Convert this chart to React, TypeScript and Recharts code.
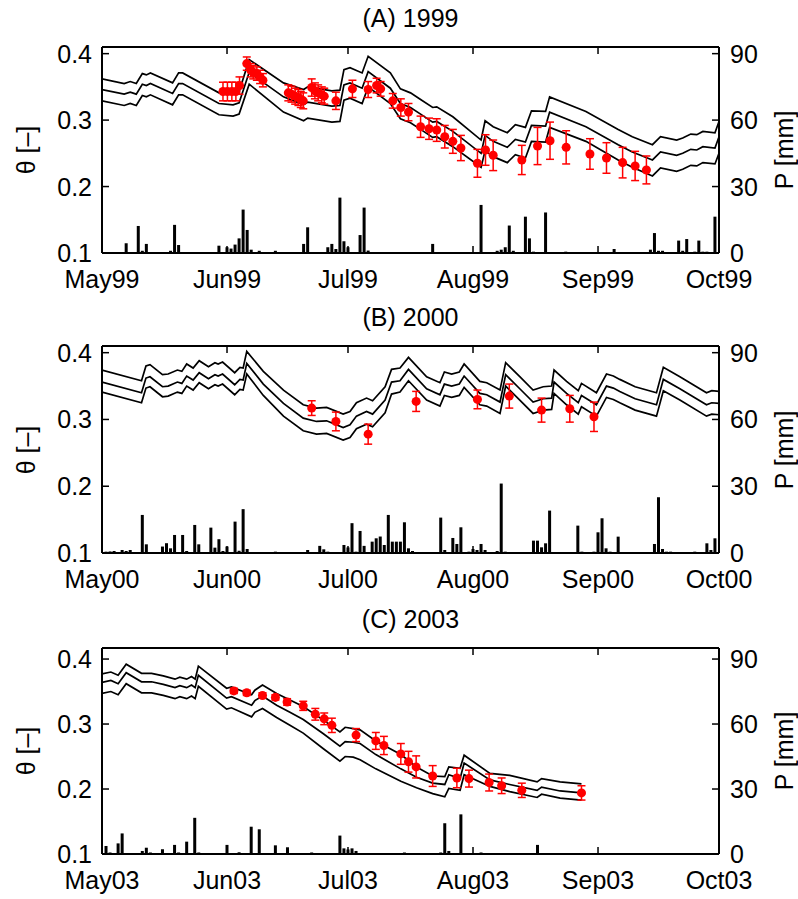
import {
  Bar,
  ComposedChart,
  ErrorBar,
  Line,
  ReferenceLine,
  Scatter,
  XAxis,
  YAxis,
} from "recharts";

// Three stacked panels: modelled soil moisture band (3 black lines),
// observed theta with error bars (red), daily rain bars on the right axis.

const FONT = '"Liberation Sans", Arial, Helvetica, sans-serif';
const RED = "#ff0000";
const FS = 25;

// x = days since 1 May
const MONTH_TICKS = [0, 31, 61, 92, 123, 153];
const THETA_TICKS = [0.1, 0.2, 0.3, 0.4];
const P_TICKS = [0, 30, 60, 90];

// ---- (A) 1999 ----
const A_MONTHS = ["May99", "Jun99", "Jul99", "Aug99", "Sep99", "Oct99"];
const A_LINE_DAYS = [0, 5.5, 7, 8.5, 10, 11, 12, 17.5, 19, 20, 29, 32.5, 34, 36.5, 45, 50, 51, 57, 59, 60, 61.5, 64.5, 66, 71.5, 74, 76.5, 79, 82, 83, 87, 94, 95, 97, 100.5, 102.5, 105, 106.5, 110, 111, 120, 128, 131.5, 136.5, 138.5, 142.5, 144, 146, 147.5, 149, 152, 153];
const A_UPPER = [0.362, 0.355, 0.358, 0.355, 0.37, 0.368, 0.371, 0.356, 0.371, 0.371, 0.341, 0.34, 0.343, 0.391, 0.356, 0.346, 0.35, 0.344, 0.345, 0.376, 0.379, 0.371, 0.396, 0.371, 0.347, 0.341, 0.331, 0.319, 0.32, 0.305, 0.27, 0.299, 0.29, 0.281, 0.293, 0.289, 0.314, 0.313, 0.335, 0.313, 0.286, 0.275, 0.263, 0.275, 0.27, 0.273, 0.279, 0.278, 0.283, 0.281, 0.298];
const A_MIDDLE = [0.346, 0.339, 0.342, 0.339, 0.354, 0.352, 0.355, 0.34, 0.355, 0.355, 0.325, 0.323, 0.326, 0.372, 0.335, 0.323, 0.327, 0.321, 0.322, 0.353, 0.356, 0.348, 0.373, 0.348, 0.325, 0.319, 0.309, 0.297, 0.298, 0.283, 0.25, 0.277, 0.268, 0.259, 0.271, 0.267, 0.292, 0.291, 0.312, 0.29, 0.263, 0.252, 0.24, 0.252, 0.247, 0.25, 0.256, 0.255, 0.26, 0.258, 0.275];
const A_LOWER = [0.329, 0.322, 0.325, 0.322, 0.337, 0.335, 0.338, 0.323, 0.338, 0.338, 0.308, 0.306, 0.309, 0.354, 0.312, 0.299, 0.303, 0.297, 0.298, 0.33, 0.333, 0.325, 0.35, 0.325, 0.302, 0.296, 0.286, 0.274, 0.275, 0.26, 0.229, 0.254, 0.245, 0.236, 0.248, 0.243, 0.268, 0.267, 0.289, 0.268, 0.24, 0.229, 0.216, 0.228, 0.223, 0.226, 0.232, 0.231, 0.236, 0.234, 0.25];
const A_OBS_DAYS = [30, 31.1, 32.2, 33.2, 34.1, 35.9, 36.9, 37.5, 38.4, 39.2, 39.9, 46.2, 47, 47.9, 48.7, 49.3, 49.9, 52, 52.8, 53.6, 54.5, 55.1, 58, 62.1, 66, 68.1, 69.1, 72.1, 74.1, 76, 79, 81.1, 83, 85, 87, 89, 93.1, 95.1, 97, 104.1, 108, 111.1, 115.1, 121, 125.1, 129.1, 132.2, 135];
const A_OBS_THETA = [0.343, 0.343, 0.343, 0.343, 0.352, 0.385, 0.375, 0.372, 0.37, 0.365, 0.36, 0.341, 0.339, 0.336, 0.334, 0.331, 0.329, 0.349, 0.344, 0.341, 0.338, 0.336, 0.329, 0.347, 0.346, 0.352, 0.347, 0.329, 0.319, 0.312, 0.29, 0.287, 0.285, 0.275, 0.268, 0.258, 0.235, 0.255, 0.247, 0.24, 0.261, 0.269, 0.259, 0.249, 0.243, 0.236, 0.231, 0.225];
const A_OBS_ERR = [0.014, 0.014, 0.014, 0.014, 0.013, 0.01, 0.01, 0.01, 0.01, 0.01, 0.01, 0.012, 0.012, 0.012, 0.012, 0.012, 0.012, 0.013, 0.012, 0.012, 0.012, 0.012, 0.013, 0.013, 0.012, 0.011, 0.011, 0.011, 0.013, 0.013, 0.016, 0.016, 0.017, 0.017, 0.018, 0.019, 0.021, 0.023, 0.023, 0.022, 0.028, 0.028, 0.025, 0.023, 0.023, 0.023, 0.022, 0.021];
const A_RAIN_DAYS = [6, 9, 10, 11, 17, 18, 19, 29, 31, 32, 33, 34, 35, 36, 37, 39, 43, 50, 51, 56, 57, 58, 59, 60, 61, 64, 65, 66, 82, 94, 98, 99, 100, 101, 102, 105, 106, 107, 110, 115, 127, 136, 137, 138, 139, 143, 144, 145, 147, 148, 149, 150, 152];
const A_RAIN_MM = [4.4, 12.2, 1, 4.1, 1, 12.7, 3.6, 3.3, 2.6, 2, 3.8, 6.6, 19.6, 10.4, 1.5, 1, 1, 4.1, 11.6, 2.6, 4.1, 1.8, 25, 5.3, 2.6, 8.1, 20.5, 1.1, 4.1, 21.7, 1, 1.5, 2.6, 12.4, 1, 16.4, 6.6, 0.6, 18.3, 0.6, 1.8, 1.5, 9, 1, 1, 5.6, 1, 6.3, 0.6, 5.6, 0.6, 0.6, 16.4];

// ---- (B) 2000 ----
const B_MONTHS = ["May00", "Jun00", "Jul00", "Aug00", "Sep00", "Oct00"];
const B_LINE_DAYS = [0, 9.8, 10.9, 11.9, 15, 16.4, 18.7, 19.8, 21, 22.6, 24.1, 26.4, 28, 28.8, 29.9, 32.9, 34.2, 35, 35.9, 40, 45, 49.9, 53.2, 55.7, 59.8, 61.5, 63.1, 65.6, 67.1, 70.2, 71.8, 73.9, 76, 80.5, 83.8, 84.9, 86.7, 88.6, 89.8, 93.7, 95.4, 98.7, 100.1, 103.6, 106.9, 109.4, 111.5, 112.1, 115.2, 118.1, 118.9, 122.6, 125.1, 126.8, 128.4, 132.2, 137.5, 139.2, 143.3, 149.9, 151.2, 153];
const B_UPPER = [0.374, 0.358, 0.38, 0.382, 0.367, 0.368, 0.374, 0.372, 0.383, 0.377, 0.388, 0.379, 0.385, 0.383, 0.386, 0.37, 0.378, 0.377, 0.402, 0.372, 0.344, 0.322, 0.317, 0.318, 0.308, 0.312, 0.325, 0.332, 0.328, 0.349, 0.375, 0.377, 0.393, 0.364, 0.355, 0.371, 0.368, 0.371, 0.383, 0.357, 0.355, 0.344, 0.385, 0.364, 0.344, 0.349, 0.35, 0.374, 0.357, 0.343, 0.354, 0.34, 0.368, 0.365, 0.36, 0.349, 0.34, 0.378, 0.364, 0.34, 0.343, 0.342];
const B_MIDDLE = [0.356, 0.34, 0.362, 0.364, 0.349, 0.35, 0.356, 0.354, 0.365, 0.359, 0.37, 0.361, 0.367, 0.365, 0.368, 0.352, 0.36, 0.359, 0.384, 0.353, 0.324, 0.302, 0.297, 0.298, 0.288, 0.292, 0.305, 0.312, 0.308, 0.329, 0.356, 0.358, 0.375, 0.346, 0.337, 0.353, 0.35, 0.353, 0.365, 0.339, 0.337, 0.326, 0.367, 0.346, 0.326, 0.331, 0.332, 0.356, 0.339, 0.325, 0.336, 0.322, 0.35, 0.347, 0.342, 0.331, 0.322, 0.36, 0.346, 0.322, 0.325, 0.324];
const B_LOWER = [0.341, 0.325, 0.347, 0.349, 0.334, 0.335, 0.341, 0.339, 0.35, 0.344, 0.355, 0.346, 0.352, 0.35, 0.353, 0.337, 0.345, 0.344, 0.368, 0.336, 0.305, 0.283, 0.278, 0.279, 0.269, 0.273, 0.286, 0.293, 0.289, 0.31, 0.338, 0.341, 0.358, 0.329, 0.32, 0.336, 0.333, 0.336, 0.348, 0.322, 0.32, 0.309, 0.35, 0.329, 0.309, 0.314, 0.315, 0.339, 0.322, 0.308, 0.319, 0.305, 0.333, 0.33, 0.325, 0.314, 0.305, 0.343, 0.329, 0.305, 0.308, 0.307];
const B_OBS_DAYS = [52, 58, 66, 77.9, 93.1, 101, 109, 116, 122];
const B_OBS_THETA = [0.317, 0.297, 0.278, 0.327, 0.33, 0.335, 0.314, 0.316, 0.304];
const B_OBS_ERR = [0.011, 0.014, 0.015, 0.015, 0.014, 0.018, 0.018, 0.02, 0.022];
const B_RAIN_DAYS = [1, 2, 3, 5, 6, 7, 10, 11, 15, 16, 17, 18, 20, 21, 23, 24, 27, 28, 29, 30, 31, 33, 34, 35, 36, 43, 51, 54, 55, 56, 60, 61, 62, 63, 64, 65, 67, 68, 69, 70, 71, 72, 73, 74, 75, 76, 77, 84, 85, 87, 88, 89, 91, 92, 93, 94, 95, 98, 99, 100, 107, 108, 109, 110, 111, 118, 119, 122, 123, 124, 125, 126, 128, 137, 138, 139, 140, 141, 147, 150, 151, 152];
const B_RAIN_MM = [0.6, 0.7, 0.9, 1.35, 0.9, 1.35, 17.1, 3.9, 2.9, 4.4, 2.1, 8.1, 8.1, 0.9, 12.6, 3.9, 11.4, 2.4, 6.2, 0.9, 2.9, 14.1, 1, 19.7, 1.8, 0.6, 1.35, 3.2, 1.65, 0.6, 3.6, 2.5, 13.4, 0.6, 9.9, 3.2, 5.1, 6.6, 7.4, 3.6, 17.1, 5.1, 5.1, 5.1, 13.8, 2.1, 0.9, 15.9, 1.35, 6.75, 4.05, 11.55, 0.6, 1.8, 1.35, 4.05, 1.35, 0.9, 31.2, 0.6, 5.55, 5.55, 2.55, 4.35, 19.05, 12.3, 0.6, 0.6, 9.3, 15.6, 2.1, 0.6, 7.35, 4.05, 25.05, 1.8, 0.6, 0.6, 0.6, 4.35, 1.35, 6.6];

// ---- (C) 2003 ----
const C_MONTHS = ["May03", "Jun03", "Jul03", "Aug03", "Sep03", "Oct03"];
const C_LINE_DAYS = [0, 2.2, 4, 6, 9.8, 12.3, 15.2, 18.1, 19.3, 21, 22.2, 23.1, 23.9, 30.9, 32.1, 37.1, 37.9, 39.8, 43.3, 46.6, 49.9, 54.9, 59, 60.3, 62.3, 64, 67.9, 74.1, 78, 82, 85, 86, 88.8, 89.8, 96.2, 101.1, 107.9, 109, 113.6, 118.9];
const C_UPPER = [0.377, 0.38, 0.375, 0.392, 0.378, 0.378, 0.374, 0.369, 0.372, 0.369, 0.373, 0.369, 0.389, 0.355, 0.357, 0.345, 0.352, 0.36, 0.347, 0.337, 0.327, 0.306, 0.288, 0.295, 0.293, 0.291, 0.274, 0.253, 0.234, 0.22, 0.219, 0.234, 0.232, 0.252, 0.224, 0.221, 0.211, 0.216, 0.211, 0.208];
const C_MIDDLE = [0.364, 0.367, 0.362, 0.379, 0.365, 0.365, 0.361, 0.356, 0.359, 0.356, 0.36, 0.356, 0.375, 0.34, 0.342, 0.329, 0.336, 0.343, 0.329, 0.318, 0.307, 0.285, 0.266, 0.273, 0.272, 0.27, 0.253, 0.231, 0.218, 0.209, 0.207, 0.222, 0.216, 0.24, 0.214, 0.207, 0.198, 0.203, 0.197, 0.194];
const C_LOWER = [0.347, 0.35, 0.345, 0.362, 0.348, 0.348, 0.344, 0.339, 0.342, 0.339, 0.343, 0.339, 0.358, 0.323, 0.325, 0.311, 0.318, 0.324, 0.31, 0.298, 0.286, 0.262, 0.243, 0.25, 0.249, 0.245, 0.231, 0.212, 0.202, 0.193, 0.188, 0.201, 0.198, 0.222, 0.204, 0.196, 0.187, 0.192, 0.186, 0.183];
const C_OBS_DAYS = [32.7, 35.9, 39.8, 43, 45.9, 49.9, 52.9, 55.1, 57, 63, 67.9, 69.9, 74.1, 76, 77.9, 82, 88, 91, 96, 99.1, 104.1, 118.9];
const C_OBS_THETA = [0.351, 0.348, 0.344, 0.341, 0.334, 0.328, 0.315, 0.308, 0.298, 0.283, 0.274, 0.267, 0.254, 0.242, 0.234, 0.22, 0.217, 0.216, 0.21, 0.205, 0.198, 0.194];
const C_OBS_ERR = [0.004, 0.004, 0.004, 0.004, 0.005, 0.007, 0.009, 0.009, 0.011, 0.01, 0.013, 0.014, 0.016, 0.016, 0.017, 0.016, 0.015, 0.013, 0.013, 0.012, 0.011, 0.011];
const C_RAIN_DAYS = [1, 2, 4, 5, 10, 11, 12, 15, 18, 19, 21, 23, 24, 31, 34, 37, 39, 43, 46, 52, 59, 60, 61, 62, 63, 75, 84, 85, 86, 89, 94, 108];
const C_RAIN_MM = [3.7, 0.7, 4.9, 9.5, 1.4, 2.9, 0.7, 2.2, 4.2, 0.7, 5.7, 16.7, 0.7, 4.2, 0.8, 12.6, 11.4, 4, 3.1, 0.7, 8.5, 2.6, 2.1, 2.6, 1.4, 0.7, 0.7, 14.2, 1.4, 18.3, 0.7, 4.2];

type TickProps = { x?: number; y?: number; payload?: { value: number } };

function MonthTick({ x = 0, y = 0, payload, labels, plotH }: TickProps & { labels: string[]; plotH: number }) {
  const i = MONTH_TICKS.indexOf(payload ? payload.value : -1);
  return (
    <g>
      <line x1={x} x2={x} y1={y} y2={y - 7} stroke="#000" strokeWidth={1.5} />
      <line x1={x} x2={x} y1={y - plotH} y2={y - plotH + 7} stroke="#000" strokeWidth={1.5} />
      <text x={x} y={y + 35} textAnchor="middle" fontSize={FS} fontFamily={FONT} fill="#000">
        {labels[i]}
      </text>
    </g>
  );
}

function ThetaTick({ x = 0, y = 0, payload }: TickProps) {
  return (
    <g>
      <line x1={x} x2={x + 7} y1={y} y2={y} stroke="#000" strokeWidth={1.5} />
      <text x={x - 10} y={y + 9} textAnchor="end" fontSize={FS} fontFamily={FONT} fill="#000">
        {payload ? payload.value.toFixed(1) : ""}
      </text>
    </g>
  );
}

function RainTick({ x = 0, y = 0, payload }: TickProps) {
  return (
    <g>
      <line x1={x} x2={x - 7} y1={y} y2={y} stroke="#000" strokeWidth={1.5} />
      <text x={x + 11} y={y + 9} textAnchor="start" fontSize={FS} fontFamily={FONT} fill="#000">
        {payload ? String(payload.value) : ""}
      </text>
    </g>
  );
}

// fixed 3px bar centred on its day, whatever band size recharts picks
function RainBar(b: { x?: number; y?: number; width?: number; height?: number }) {
  const cx = (b.x ?? 0) + (b.width ?? 0) / 2;
  const h = b.height ?? 0;
  if (h <= 0) return null;
  return <rect x={cx - 1.5} y={b.y} width={3} height={h} fill="#000" />;
}

type PanelProps = {
  top: number;
  title: string;
  months: string[];
  plotH: number;
  thetaMax: number;
  pMax: number;
  lineDays: number[];
  upper: number[];
  middle: number[];
  lower: number[];
  obsDays: number[];
  obsTheta: number[];
  obsErr: number[];
  rainDays: number[];
  rainMm: number[];
};

const CHART_H = 298;
const PLOT_TOP = 47;

function Panel(p: PanelProps) {
  const rain = p.rainDays.map((d, i) => ({ d, p: p.rainMm[i] }));
  const bands = [p.upper, p.middle, p.lower].map((vals) =>
    p.lineDays.map((d, i) => ({ d, v: vals[i] })),
  );
  const obs = p.obsDays.map((d, i) => ({ d, th: p.obsTheta[i], e: p.obsErr[i] }));
  const midY = PLOT_TOP + p.plotH / 2;
  const labelStyle = {
    position: "absolute" as const,
    width: 120,
    height: 30,
    lineHeight: "30px",
    fontSize: FS,
    textAlign: "center" as const,
    transform: "rotate(-90deg)",
    top: midY - 15,
    whiteSpace: "nowrap" as const,
  };

  return (
    <div style={{ position: "absolute", left: 0, top: p.top, width: 798, height: CHART_H }}>
      <ComposedChart
        width={798}
        height={CHART_H}
        data={rain}
        margin={{ top: PLOT_TOP, right: 19, bottom: 0, left: 42 }}
      >
        <XAxis
          dataKey="d"
          type="number"
          domain={[0, 153]}
          allowDataOverflow
          ticks={MONTH_TICKS}
          interval={0}
          height={CHART_H - PLOT_TOP - p.plotH}
          tickSize={0}
          tickMargin={0}
          tickLine={false}
          axisLine={{ stroke: "#000", strokeWidth: 2 }}
          tick={(t: TickProps) => <MonthTick {...t} labels={p.months} plotH={p.plotH} />}
        />
        <YAxis
          yAxisId="t"
          type="number"
          domain={[0.1, p.thetaMax]}
          allowDataOverflow
          ticks={THETA_TICKS}
          interval={0}
          width={60}
          tickSize={0}
          tickMargin={0}
          tickLine={false}
          axisLine={{ stroke: "#000", strokeWidth: 2 }}
          tick={(t: TickProps) => <ThetaTick {...t} />}
        />
        <YAxis
          yAxisId="p"
          orientation="right"
          type="number"
          domain={[0, p.pMax]}
          allowDataOverflow
          ticks={P_TICKS}
          interval={0}
          width={60}
          tickSize={0}
          tickMargin={0}
          tickLine={false}
          axisLine={{ stroke: "#000", strokeWidth: 2 }}
          tick={(t: TickProps) => <RainTick {...t} />}
        />
        <ReferenceLine yAxisId="t" y={p.thetaMax} stroke="#000" strokeWidth={2} />
        <Bar
          yAxisId="p"
          dataKey="p"
          fill="#000"
          barSize={3}
          shape={(b: any) => <RainBar {...b} />}
          isAnimationActive={false}
        />
        {bands.map((rows, i) => (
          <Line
            key={i}
            data={rows}
            yAxisId="t"
            dataKey="v"
            type="linear"
            stroke="#000"
            strokeWidth={1.7}
            dot={false}
            activeDot={false}
            isAnimationActive={false}
          />
        ))}
        <Scatter
          data={obs}
          yAxisId="t"
          dataKey="th"
          fill={RED}
          shape="circle"
          isAnimationActive={false}
        >
          <ErrorBar dataKey="e" direction="y" width={4} stroke={RED} strokeWidth={1.5} />
        </Scatter>
      </ComposedChart>
      <div
        style={{
          position: "absolute",
          left: 102,
          width: 617,
          top: 6,
          fontSize: FS,
          lineHeight: `${FS}px`,
          textAlign: "center",
        }}
      >
        {p.title}
      </div>
      <div style={{ ...labelStyle, left: 26 - 60 }}>θ [–]</div>
      <div style={{ ...labelStyle, left: 784 - 60 }}>P [mm]</div>
    </div>
  );
}

export default function App() {
  return (
    <div
      style={{
        position: "absolute",
        left: 0,
        top: 0,
        width: 798,
        height: 899,
        overflow: "hidden",
        background: "#fff",
        fontFamily: FONT,
        color: "#000",
      }}
    >
      <Panel
        top={0}
        title="(A) 1999"
        months={A_MONTHS}
        plotH={206}
        thetaMax={0.41}
        pMax={93}
        lineDays={A_LINE_DAYS}
        upper={A_UPPER}
        middle={A_MIDDLE}
        lower={A_LOWER}
        obsDays={A_OBS_DAYS}
        obsTheta={A_OBS_THETA}
        obsErr={A_OBS_ERR}
        rainDays={A_RAIN_DAYS}
        rainMm={A_RAIN_MM}
      />
      <Panel
        top={299}
        title="(B) 2000"
        months={B_MONTHS}
        plotH={207}
        thetaMax={0.41}
        pMax={93}
        lineDays={B_LINE_DAYS}
        upper={B_UPPER}
        middle={B_MIDDLE}
        lower={B_LOWER}
        obsDays={B_OBS_DAYS}
        obsTheta={B_OBS_THETA}
        obsErr={B_OBS_ERR}
        rainDays={B_RAIN_DAYS}
        rainMm={B_RAIN_MM}
      />
      <Panel
        top={601}
        title="(C) 2003"
        months={C_MONTHS}
        plotH={206}
        thetaMax={0.417}
        pMax={95.1}
        lineDays={C_LINE_DAYS}
        upper={C_UPPER}
        middle={C_MIDDLE}
        lower={C_LOWER}
        obsDays={C_OBS_DAYS}
        obsTheta={C_OBS_THETA}
        obsErr={C_OBS_ERR}
        rainDays={C_RAIN_DAYS}
        rainMm={C_RAIN_MM}
      />
    </div>
  );
}
